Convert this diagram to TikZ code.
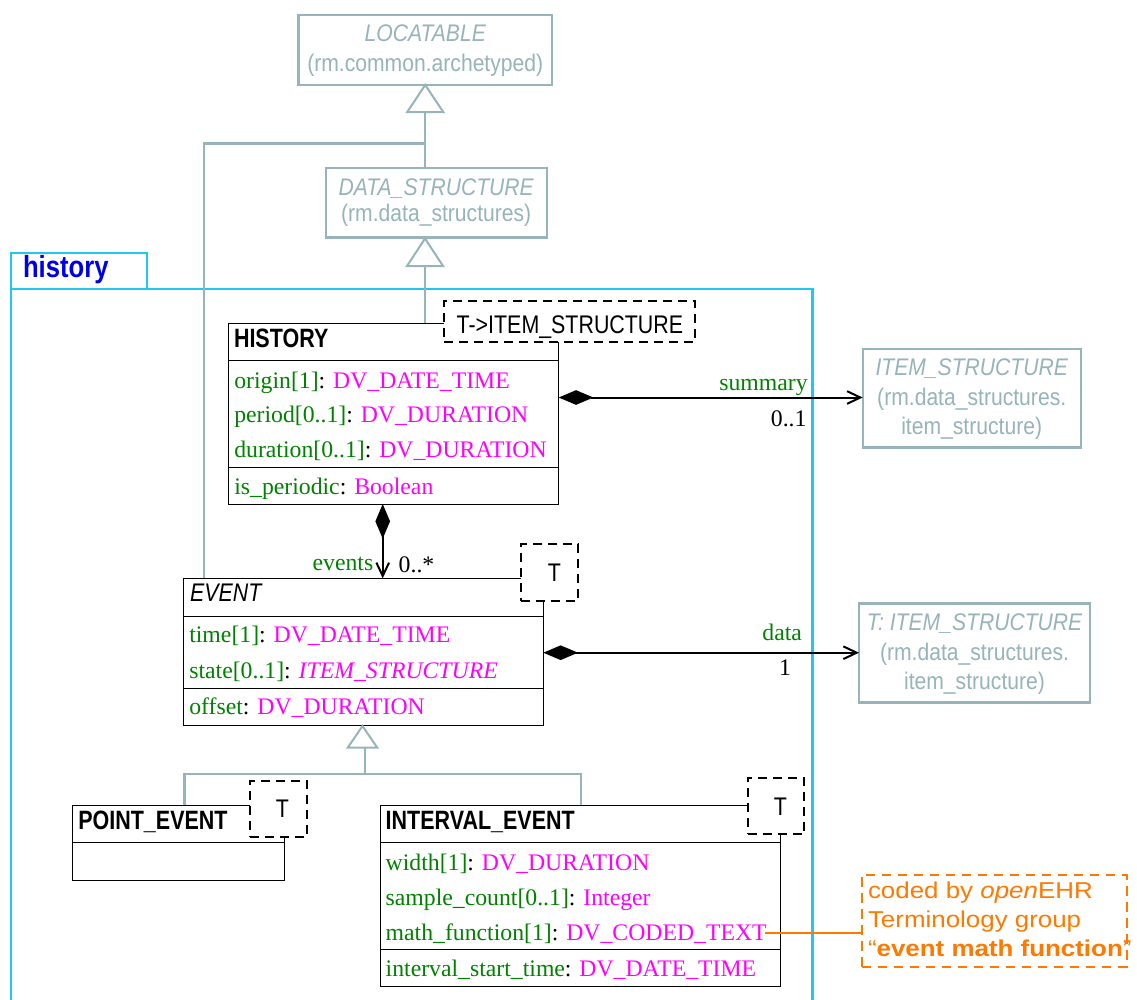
\documentclass[tikz,border=0pt]{standalone}
\usepackage{fontspec}
\setmainfont{Liberation Serif}
\newfontfamily\fGrey[FakeStretch=0.88]{Liberation Sans}
\newfontfamily\fNarrow[FakeStretch=0.84]{Liberation Sans}
\newfontfamily\fTitle[FakeStretch=0.81]{Liberation Sans}
\newfontfamily\fNote[FakeStretch=1.13]{Liberation Sans}
\usetikzlibrary{arrows.meta}
\definecolor{umlgrey}{RGB}{150,180,185}
\definecolor{attrgreen}{RGB}{0,130,0}
\definecolor{typemag}{RGB}{255,0,255}
\definecolor{pkgcyan}{RGB}{30,200,240}
\definecolor{pkgblue}{RGB}{0,0,230}
\definecolor{noteorange}{RGB}{255,120,0}
\newcommand\szAttr{\fontsize{17.8pt}{20pt}\selectfont}
\newcommand\szGrey{\fontsize{18pt}{20pt}\selectfont}
\newcommand\szTitle{\fontsize{19.9pt}{22pt}\selectfont}
\newcommand\szNarrow{\fontsize{19.1pt}{22pt}\selectfont}
\newcommand\szHist{\fontsize{22.9pt}{25pt}\selectfont}
\newcommand\szNote{\fontsize{17.2pt}{20pt}\selectfont}
\newcommand\ga[1]{{\color{attrgreen}#1}}
\newcommand\mt[1]{{\color{typemag}#1}}
\begin{document}
\begin{tikzpicture}[x=0.75pt,y=-0.75pt,
  txt/.style={inner sep=0pt, outer sep=0pt},
  attr/.style={txt, anchor=base west, font=\szAttr},
  grtxt/.style={txt, anchor=base, font=\fGrey\szGrey, text=umlgrey},
  title/.style={txt, anchor=base west, font=\fTitle\bfseries\szTitle},
  tlabel/.style={txt, anchor=base, font=\fNarrow\szNarrow},
  clsbox/.style={draw=black, line width=0.75pt, fill=white, inner sep=0pt, outer sep=0pt, anchor=north west},
  greybox/.style={draw=umlgrey, line width=1.8pt, fill=white, inner sep=0pt, outer sep=0pt, anchor=north west},
  tparam/.style={draw=black, line width=1.5pt, dash pattern=on 6.75pt off 4.5pt, fill=white, inner sep=0pt, outer sep=0pt, anchor=north west},
  notebox/.style={draw=noteorange, line width=1.5pt, dash pattern=on 7pt off 5pt, inner sep=0pt, outer sep=0pt, anchor=north west},
  divider/.style={draw=black, line width=0.75pt},
  genline/.style={draw=umlgrey, line width=1.8pt},
  gentri/.style={draw=umlgrey, line width=1.5pt, fill=white, line join=miter},
  assoc/.style={draw=black, line width=1.5pt, {Diamond[length=26pt,width=11pt]}-{Straight Barb[length=10pt,width=9.5pt]}},
  pkgline/.style={draw=pkgcyan, line width=1.7pt},
  noteline/.style={draw=noteorange, line width=1.5pt},
  ]
\useasboundingbox (0,0) rectangle (1137,999);

% package
\draw[pkgline] (11,1005) -- (11,252.7) -- (147.3,252.7) -- (147.3,289.3);
\draw[pkgline] (11,289.3) -- (812.6,289.3) -- (812.6,1005);
\node[txt, anchor=base west, font=\fNarrow\bfseries\szHist, text=pkgblue] (pkgname) at (23,277.7) {history};

% grey classes
\node[greybox, minimum width=253.5*0.75pt, minimum height=70*0.75pt] (loc) at (298.5,15) {};
\node[grtxt] (loct1) at (425.25,41.5) {\itshape LOCATABLE};
\node[grtxt] (loct2) at (425.25,71) {(rm.common.archetyped)};

\node[greybox, minimum width=221*0.75pt, minimum height=69.5*0.75pt] (ds) at (325.7,168) {};
\node[grtxt] (dst1) at (436.2,195.5) {\itshape DATA\_STRUCTURE};
\node[grtxt] (dst2) at (436.2,221) {(rm.data\_structures)};

\node[greybox, minimum width=218*0.75pt, minimum height=98.5*0.75pt] (is) at (862.7,349) {};
\node[grtxt] (ist1) at (971.7,375.5) {\itshape ITEM\_STRUCTURE};
\node[grtxt] (ist2) at (971.7,405) {(rm.data\_structures.};
\node[grtxt] (ist3) at (971.7,434.5) {item\_structure)};

\node[greybox, minimum width=231*0.75pt, minimum height=99*0.75pt] (tis) at (859,603.5) {};
\node[grtxt] (tist1) at (974.5,630.5) {\itshape T: ITEM\_STRUCTURE};
\node[grtxt] (tist2) at (974.5,660) {(rm.data\_structures.};
\node[grtxt] (tist3) at (974.5,689.5) {item\_structure)};

% generalisation LOCATABLE
\coordinate (evjoin) at (204,143.3);
\draw[genline] (loc.south) ++(0,27) -- (loc.south |- ds.north);
\draw[genline] (loc.south |- evjoin) -- (evjoin) -- (204,578.3);
\draw[gentri] (loc.south) -- ++(-18,27) -- ++(36,0) -- cycle;
% generalisation DATA_STRUCTURE
\draw[genline] (425,266) -- (425,323.3);
\draw[gentri] (425,238.5) -- ++(-18,27.5) -- ++(36,0) -- cycle;

% HISTORY
\node[clsbox, minimum width=330*0.75pt, minimum height=180.7*0.75pt] (hist) at (228.7,323.3) {};
\draw[divider] (hist.west |- 0,360.7) -- (hist.east |- 0,360.7);
\draw[divider] (hist.west |- 0,467.3) -- (hist.east |- 0,467.3);
\node[title] (histt) at (234,347.3) {HISTORY};
\node[attr] (h1) at (234.3,388.3) {\ga{origin[1]}: \mt{DV\_DATE\_TIME}};
\node[attr] (h2) at (234.3,422.7) {\ga{period[0..1]}: \mt{DV\_DURATION}};
\node[attr] (h3) at (234.3,457.3) {\ga{duration[0..1]}: \mt{DV\_DURATION}};
\node[attr] (h4) at (234.3,494) {\ga{is\_periodic}: \mt{Boolean}};
\node[tparam, minimum width=250.7*0.75pt, minimum height=41.6*0.75pt] (histT) at (444.3,300.7) {};
\node[txt, anchor=base west, font=\fNarrow\szNarrow] (histTt) at (456.7,333.3) {T->ITEM\_STRUCTURE};

% EVENT
\node[clsbox, minimum width=360*0.75pt, minimum height=146.7*0.75pt] (ev) at (183.3,578.3) {};
\draw[divider] (ev.west |- 0,616.7) -- (ev.east |- 0,616.7);
\draw[divider] (ev.west |- 0,688.3) -- (ev.east |- 0,688.3);
\node[txt, anchor=base west, font=\fNarrow\itshape\szNarrow] (evt) at (190,601.7) {EVENT};
\node[attr] (e1) at (189.3,642.7) {\ga{time[1]}: \mt{DV\_DATE\_TIME}};
\node[attr] (e2) at (189.3,678.3) {\ga{state[0..1]}: \mt{\itshape ITEM\_STRUCTURE}};
\node[attr] (e3) at (189.3,714.3) {\ga{offset}: \mt{DV\_DURATION}};
\node[tparam, minimum width=57.6*0.75pt, minimum height=56.4*0.75pt] (evT) at (520.7,544.3) {};
\node[tlabel] (evTt) at (554.3,581.7) {T};

% generalisation EVENT
\coordinate (subjoin) at (364.7,774);
\draw[genline] (364.7,747.7) -- (subjoin);
\draw[genline] (184.3,805.3) -- (184.3,774) -- (580.7,774) -- (580.7,805);
\draw[gentri] (362.5,726) -- ++(-14.8,21.7) -- ++(29.6,0) -- cycle;

% POINT_EVENT
\node[clsbox, minimum width=212*0.75pt, minimum height=75*0.75pt] (pe) at (72.3,805.3) {};
\draw[divider] (pe.west |- 0,842.3) -- (pe.east |- 0,842.3);
\node[title] (pet) at (78.3,829.3) {POINT\_EVENT};
\node[tparam, minimum width=56.7*0.75pt, minimum height=56.6*0.75pt] (peT) at (250.3,780.7) {};
\node[tlabel] (peTt) at (282.3,817.3) {T};

% INTERVAL_EVENT
\node[clsbox, minimum width=400*0.75pt, minimum height=181*0.75pt] (ie) at (380,805) {};
\draw[divider] (ie.west |- 0,842.3) -- (ie.east |- 0,842.3);
\draw[divider] (ie.west |- 0,949.3) -- (ie.east |- 0,949.3);
\node[title] (iet) at (385.7,829) {INTERVAL\_EVENT};
\node[attr] (i1) at (385.7,870) {\ga{width[1]}: \mt{DV\_DURATION}};
\node[attr] (i2) at (385.7,905) {\ga{sample\_count[0..1]}: \mt{Integer}};
\node[attr] (i3) at (385.7,940) {\ga{math\_function[1]}: \mt{DV\_CODED\_TEXT}};
\node[attr] (i4) at (385.7,976) {\ga{interval\_start\_time}: \mt{DV\_DATE\_TIME}};
\node[tparam, minimum width=56.6*0.75pt, minimum height=56.3*0.75pt] (ieT) at (747.7,777.7) {};
\node[tlabel] (ieTt) at (780.3,815) {T};

% associations
\coordinate (sumy) at (0,397.5);
\draw[assoc] (hist.east |- sumy) -- (is.west |- sumy);
\node[txt, anchor=base east, font=\szAttr, text=attrgreen] (lsum) at (807.6,390) {summary};
\node[txt, anchor=base east, font=\szAttr] (msum) at (806.5,426.7) {0..1};

\coordinate (datay) at (0,652.7);
\draw[assoc] (ev.east |- datay) -- (tis.west |- datay);
\node[txt, anchor=base east, font=\szAttr, text=attrgreen] (ldata) at (802,640.7) {data};
\node[txt, anchor=base east, font=\szAttr] (mdata) at (791,675) {1};

\coordinate (evx) at (382.7,0);
\draw[assoc] (evx |- hist.south) -- (evx |- ev.north);
\node[txt, anchor=base east, font=\szAttr, text=attrgreen] (lev) at (373.3,570) {events};
\node[txt, anchor=base west, font=\szAttr] (mev) at (398.7,572.7) {0..*};

% note
\node[notebox, minimum width=265*0.75pt, minimum height=91.7*0.75pt] (note) at (861.7,875) {};
\node[txt, anchor=base west, font=\fNote\szNote, text=noteorange] (n1) at (868,898) {coded by \textit{open}EHR};
\node[txt, anchor=base west, font=\fNote\szNote, text=noteorange] (n2) at (868,927) {Terminology group};
\node[txt, anchor=base west, font=\fNote\szNote, text=noteorange] (n3) at (868,956) {“\textbf{event math function}”};
\coordinate (mfend) at (765,932.7);
\draw[noteline] (mfend) -- (note.west |- mfend);

\end{tikzpicture}
\end{document}
